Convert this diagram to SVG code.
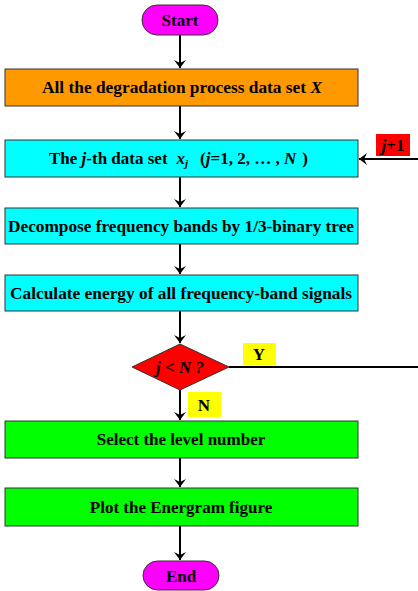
<svg xmlns="http://www.w3.org/2000/svg" width="418" height="591" viewBox="0 0 418 591">
<defs>
<marker id="ah" markerWidth="8" markerHeight="12" refX="8" refY="6" orient="auto" markerUnits="userSpaceOnUse">
<path d="M0,0 L8,6 L0,12 L3,6 Z" fill="#000"/>
</marker>
</defs>
<style>
.b{stroke:#333;stroke-width:1}
.t{font-family:"Liberation Serif","Times New Roman",serif;font-weight:bold;font-size:17px;fill:#000;text-anchor:middle}
.c{stroke:#000;stroke-width:2;fill:none;marker-end:url(#ah)}
</style>
<rect width="418" height="591" fill="#fff"/>
<g id="connectors">
<line class="c" x1="180" y1="35" x2="180" y2="68"/>
<line class="c" x1="180" y1="106" x2="180" y2="139"/>
<line class="c" x1="180" y1="177" x2="180" y2="207"/>
<line class="c" x1="180" y1="244" x2="180" y2="274"/>
<line class="c" x1="180" y1="311" x2="180" y2="343"/>
<line class="c" x1="180" y1="390" x2="180" y2="420"/>
<line class="c" x1="180" y1="458" x2="180" y2="487"/>
<line class="c" x1="180" y1="526" x2="180" y2="560"/>
<line x1="229" y1="367" x2="418" y2="367" stroke="#000" stroke-width="2"/>
<line class="c" x1="418" y1="159" x2="359" y2="159"/>
</g>
<g id="start">
<rect class="b" x="142" y="5" width="76" height="30" rx="15" fill="#ff00ff"/>
<text class="t" x="180" y="26">Start</text>
</g>
<g id="n1">
<rect class="b" x="5" y="69" width="353" height="37" fill="#ff9900"/>
<text class="t" x="182" y="93" textLength="280" lengthAdjust="spacingAndGlyphs">All the degradation process data set <tspan font-style="italic">X</tspan></text>
</g>
<g id="n2">
<rect class="b" x="5" y="140" width="353" height="37" fill="#00ffff"/>
<text class="t" x="49" y="164" style="text-anchor:start">The <tspan font-style="italic">j</tspan>-th data set<tspan dx="9" font-style="italic">x</tspan><tspan font-style="italic" font-size="11" dy="3">j</tspan><tspan dy="-3" dx="12">(</tspan><tspan font-style="italic">j</tspan>=1, 2, … , <tspan font-style="italic">N</tspan><tspan dx="6">)</tspan></text>
</g>
<g id="n3">
<rect class="b" x="5" y="208" width="353" height="36" fill="#00ffff"/>
<text class="t" x="181" y="232" textLength="346" lengthAdjust="spacingAndGlyphs">Decompose frequency bands by 1/3-binary tree</text>
</g>
<g id="n4">
<rect class="b" x="5" y="275" width="353" height="36" fill="#00ffff"/>
<text class="t" x="181" y="299" textLength="342" lengthAdjust="spacingAndGlyphs">Calculate energy of all frequency-band signals</text>
</g>
<g id="decision">
<polygon class="b" points="180,344 229,367 180,390 132,367" fill="#ff0000"/>
<text class="t" x="180" y="373" font-style="italic">j &lt; N ?</text>
</g>
<g id="labelY">
<rect x="243" y="343" width="33" height="22" fill="#ffff00"/>
<text class="t" x="259" y="360">Y</text>
</g>
<g id="labelN">
<rect x="188" y="392" width="33" height="25" fill="#ffff00"/>
<text class="t" x="204" y="411">N</text>
</g>
<g id="labelJ1">
<rect x="376" y="134" width="34" height="22" fill="#ff0000"/>
<text class="t" x="393" y="151"><tspan font-style="italic">j</tspan>+1</text>
</g>
<g id="n5">
<rect class="b" x="5" y="421" width="353" height="37" fill="#00ff00"/>
<text class="t" x="181" y="445">Select the level number</text>
</g>
<g id="n6">
<rect class="b" x="5" y="488" width="353" height="38" fill="#00ff00"/>
<text class="t" x="181" y="513">Plot the Energram figure</text>
</g>
<g id="end">
<rect class="b" x="143" y="561" width="76" height="29" rx="14.5" fill="#ff00ff"/>
<text class="t" x="181" y="582">End</text>
</g>
</svg>
